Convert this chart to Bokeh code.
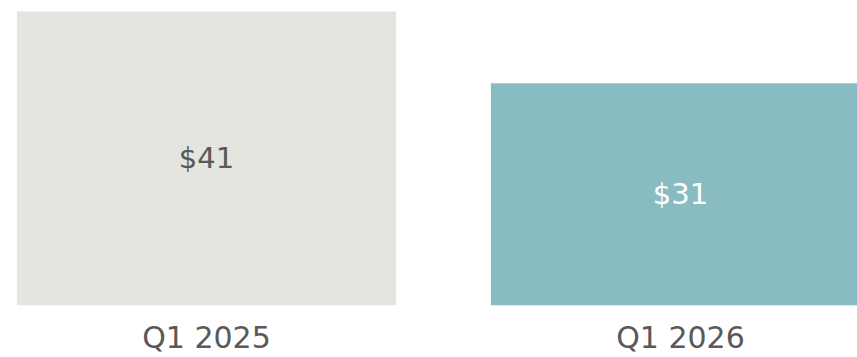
from bokeh.plotting import figure
from bokeh.models import ColumnDataSource, Range1d, FixedTicker
from bokeh.core.properties import value
from bokeh.embed import file_html
from bokeh.resources import INLINE

categories = ["Q1 2025", "Q1 2026"]
values = [41, 31]
bar_colors = ["#E4E5DF", "#89BBC2"]
label_colors = ["#595959", "#FFFFFF"]

xs = list(range(len(categories)))
source = ColumnDataSource(dict(
    x=xs,
    top=values,
    mid=[v / 2 for v in values],
    label=[f"${v}" for v in values],
    color=bar_colors,
    tcolor=label_colors,
))

p = figure(width=857, height=357, output_backend="svg", toolbar_location=None,
           x_range=Range1d(-0.4346, 1.3734), y_range=Range1d(0, 42.534),
           min_border_left=0, min_border_right=0, min_border_top=0,
           min_border_bottom=52)
p.outline_line_color = None
p.background_fill_color = "#FFFFFF"
p.border_fill_color = "#FFFFFF"
p.grid.visible = False
p.yaxis.visible = False

p.vbar(x="x", top="top", bottom=0, width=0.8, fill_color="color",
       line_color=None, source=source)

p.text(x="x", y="mid", text="label", text_color="tcolor",
       text_font=value("DejaVu Sans"), text_font_size="29px",
       text_align="center", text_baseline="middle", source=source)

xa = p.xaxis[0]
xa.ticker = FixedTicker(ticks=xs)
xa.major_label_overrides = {i: c for i, c in zip(xs, categories)}
xa.axis_line_color = None
xa.major_tick_line_color = None
xa.minor_tick_line_color = None
xa.major_tick_out = 0
xa.major_tick_in = 0
xa.minor_tick_out = 0
xa.major_label_text_font = "DejaVu Sans"
xa.major_label_text_font_size = "30px"
xa.major_label_text_color = "#595959"
xa.major_label_text_line_height = 1.0
xa.major_label_standoff = 14

open("out.html", "w").write(file_html(p, INLINE))
